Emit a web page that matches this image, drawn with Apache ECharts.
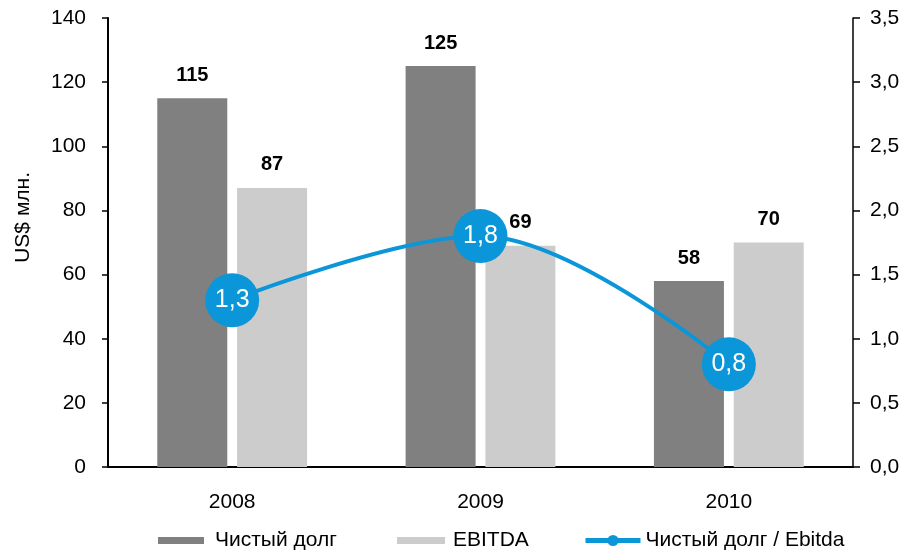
<!DOCTYPE html>
<html>
<head>
<meta charset="utf-8">
<script src="https://cdn.jsdelivr.net/npm/echarts@6/dist/echarts.min.js"></script>
<style>
  html, body { margin: 0; padding: 0; background: #fff; }
  #chart { width: 909px; height: 550px; }
</style>
</head>
<body>
<div id="chart"></div>
<script>
// Years on the category axis
const years = ['2008', '2009', '2010'];
// Net debt, US$ mln
const netDebt = [115, 125, 58];
// EBITDA, US$ mln
const ebitda = [87, 69, 70];
// Net debt / EBITDA ratio
const ratio = [1.3, 1.8, 0.8];

const FONT = '"Liberation Sans", Arial, sans-serif';
const DARK = '#808080';
const LIGHT = '#cccccc';
const BLUE = '#0a96d8';

const comma = v => String(v).replace('.', ',');

const chart = echarts.init(document.getElementById('chart'), null, { renderer: 'canvas' });

const legendText = { fontFamily: FONT, fontSize: 21, color: '#000' };

chart.setOption({
  animation: false,
  backgroundColor: '#ffffff',
  textStyle: { fontFamily: FONT },
  grid: { left: 108, right: 56, top: 18, bottom: 83 },
  legend: [
    {
      data: [{ name: 'Чистый долг', icon: 'rect' }], left: 158, top: 530, padding: 0,
      itemWidth: 46, itemHeight: 7,
      textStyle: Object.assign({ padding: [0, 0, 0, 6] }, legendText)
    },
    {
      data: [{ name: 'EBITDA', icon: 'rect' }], left: 397, top: 530, padding: 0,
      itemWidth: 48, itemHeight: 7,
      textStyle: Object.assign({ padding: [0, 0, 0, 3] }, legendText)
    },
    {
      data: ['Чистый долг / Ebitda'], left: 583, top: 530, padding: 0,
      itemWidth: 55, itemHeight: 14,
      lineStyle: { width: 5 },
      textStyle: Object.assign({ padding: [0, 0, 0, 0] }, legendText)
    }
  ],
  graphic: [{
    type: 'text',
    left: 13, top: 172,
    rotation: Math.PI / 2,
    style: { text: 'US$ млн.', font: '21px ' + FONT, fill: '#000' }
  }],
  xAxis: {
    type: 'category',
    data: years,
    axisLine: { lineStyle: { color: '#000', width: 2 } },
    axisTick: { show: false },
    axisLabel: { color: '#000', fontSize: 21, fontFamily: FONT, margin: 25 }
  },
  yAxis: [
    {
      type: 'value', min: 0, max: 140, interval: 20,
      axisLine: { show: true, lineStyle: { color: '#000', width: 2 } },
      axisTick: { show: true, length: 6, lineStyle: { color: '#000', width: 1.5 } },
      axisLabel: { color: '#000', fontSize: 21, fontFamily: FONT, margin: 22 },
      splitLine: { show: false }
    },
    {
      type: 'value', min: 0, max: 3.5, interval: 0.5, position: 'right',
      axisLine: { show: true, lineStyle: { color: '#000', width: 1.5 } },
      axisTick: { show: true, length: 7, lineStyle: { color: '#000', width: 1.5 } },
      axisLabel: {
        color: '#000', fontSize: 21, fontFamily: FONT, margin: 17,
        formatter: v => v.toFixed(1).replace('.', ',')
      },
      splitLine: { show: false }
    }
  ],
  series: [
    {
      name: 'Чистый долг', type: 'bar', data: netDebt,
      barWidth: 70, barGap: '14%',
      itemStyle: { color: DARK },
      label: {
        show: true, position: 'top', distance: 13,
        color: '#000', fontSize: 20, fontWeight: 'bold', fontFamily: FONT
      }
    },
    {
      name: 'EBITDA', type: 'bar', data: ebitda,
      barWidth: 70,
      itemStyle: { color: LIGHT },
      label: {
        show: true, position: 'top', distance: 13,
        color: '#000', fontSize: 20, fontWeight: 'bold', fontFamily: FONT
      }
    },
    {
      name: 'Чистый долг / Ebitda', type: 'line', yAxisIndex: 1, data: ratio,
      smooth: 0.35,
      symbol: 'circle', symbolSize: 54,
      lineStyle: { color: BLUE, width: 4 },
      itemStyle: { color: BLUE },
      z: 5,
      label: {
        show: true, position: 'inside',
        color: '#fff', fontSize: 25, fontFamily: FONT,
        formatter: p => comma(p.value)
      }
    }
  ]
});
</script>
</body>
</html>
